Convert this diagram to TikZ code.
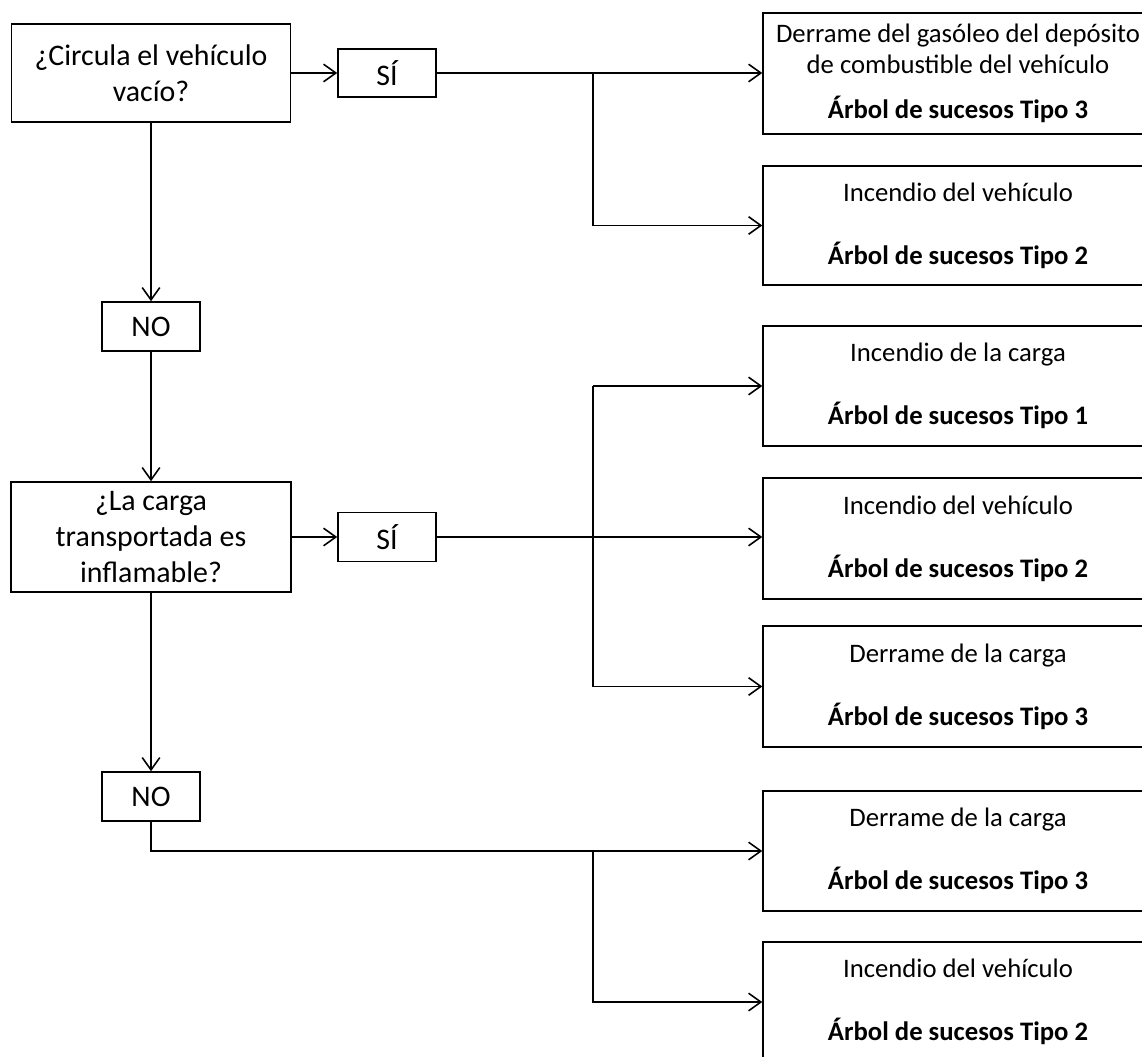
\documentclass[tikz,border=0pt]{standalone}
\usepackage{fontspec}
\setmainfont{Carlito}
\usetikzlibrary{arrows.meta}

\begin{document}
\begin{tikzpicture}[x=0.02cm,y=-0.02cm,line width=0.9pt,>={Straight Barb[length=7pt,width=10pt]}]
\tikzstyle{question}=[rectangle,draw,align=center,inner sep=0pt,font=\fontsize{17}{20.5}\selectfont]
\tikzstyle{answer}=[rectangle,draw,minimum width=1.96cm,inner sep=0pt,font=\fontsize{17}{20}\selectfont]
\tikzstyle{event}=[rectangle,draw,align=center,minimum width=7.8cm,minimum height=2.4cm,inner sep=0pt,font=\fontsize{15.2}{17.5}\selectfont]

\useasboundingbox (0,0) rectangle (1142,1057);

%questions and answers.
\node[question,minimum width=5.58cm,minimum height=1.96cm] (qEmpty) at (151,73) {¿Circula el vehículo\\vacío?};
\node[answer,minimum height=0.96cm] (yesEmpty) at (387,73) {SÍ};
\node[answer,minimum height=0.98cm] (noEmpty) at (151,326.5) {NO};

\node[question,minimum width=5.6cm,minimum height=2.2cm] (qLoad) at (151,537) {¿La carga\\transportada es\\inflamable?};
\node[answer,minimum height=0.98cm] (yesLoad) at (387,537) {SÍ};
\node[answer,minimum height=0.98cm] (noLoad) at (151,796.5) {NO};

%event trees.
\node[event,minimum height=2.42cm] (ev1) at (958,73.5) {Derrame del gasóleo del depósito\\de combustible del vehículo\\[8pt]\textbf{Árbol de sucesos Tipo 3}};
\node[event,minimum height=2.38cm] (ev2) at (958,225.5) {Incendio del vehículo\\[18.5pt]\textbf{Árbol de sucesos Tipo 2}};
\node[event] (ev3) at (958,386) {Incendio de la carga\\[18.5pt]\textbf{Árbol de sucesos Tipo 1}};
\node[event,minimum height=2.42cm] (ev4) at (958,538.5) {Incendio del vehículo\\[18.5pt]\textbf{Árbol de sucesos Tipo 2}};
\node[event,minimum height=2.42cm] (ev5) at (958,686.5) {Derrame de la carga\\[18.5pt]\textbf{Árbol de sucesos Tipo 3}};
\node[event] (ev6) at (958,851) {Derrame de la carga\\[18.5pt]\textbf{Árbol de sucesos Tipo 3}};
\node[event] (ev7) at (958,1002) {Incendio del vehículo\\[18.5pt]\textbf{Árbol de sucesos Tipo 2}};

\coordinate (split1) at (593,73);
\coordinate (split2) at (593,386);
\coordinate (split3) at (593,851);

%first question.
\draw[->] (qEmpty.east) -- (yesEmpty.west);
\draw[->] (yesEmpty.east) -- (yesEmpty.east -| ev1.west);
\draw[->] (split1) |- (ev2.west);
\draw[->] (qEmpty.south) -- (noEmpty.north);
\draw[->] (noEmpty.south) -- (qLoad.north);

%second question.
\draw[->] (qLoad.east) -- (yesLoad.west);
\draw[->] (yesLoad.east) -- (yesLoad.east -| ev4.west);
\draw[->] (split2) -- (ev3.west);
\draw[->] (split2) |- (ev5.west);
\draw[->] (qLoad.south) -- (noLoad.north);
\draw[->] (noLoad.south) |- (ev6.west);
\draw[->] (split3) |- (ev7.west);

\end{tikzpicture}
\end{document}
